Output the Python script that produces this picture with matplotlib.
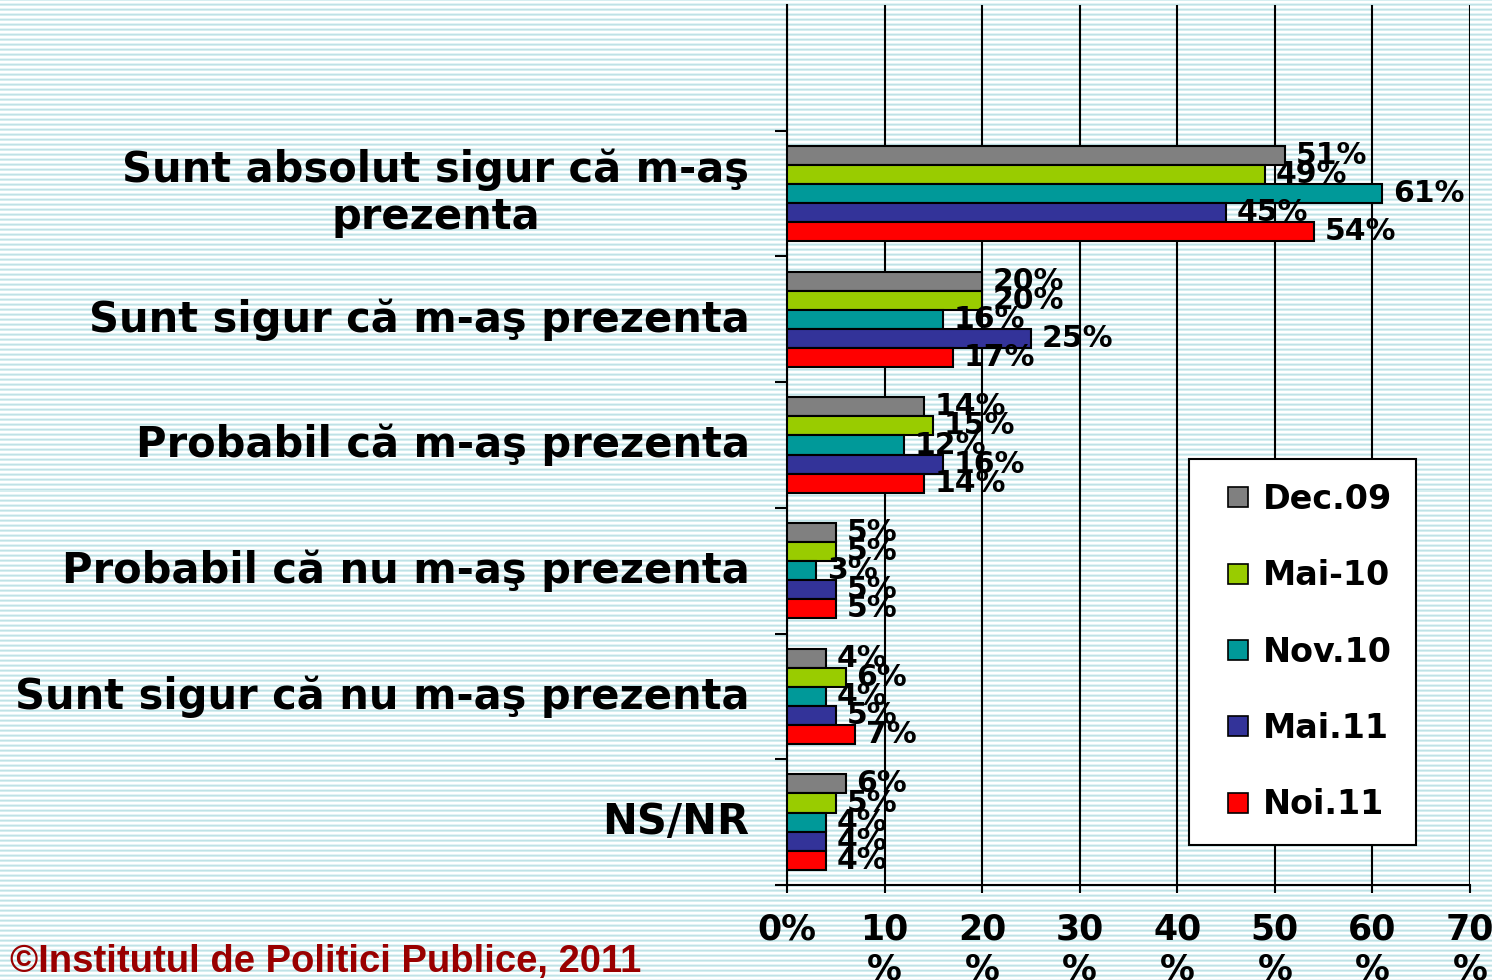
"""
Prezenta la vot - bare orizontale pe valuri de sondaj
"""

import numpy as np
import matplotlib
matplotlib.use('Agg')
import matplotlib.pyplot as plt
from matplotlib.lines import Line2D

# categorii (de sus in jos)
categories = ['Sunt absolut sigur că m-aş\nprezenta',
              'Sunt sigur că m-aş prezenta',
              'Probabil că m-aş prezenta',
              'Probabil că nu m-aş prezenta',
              'Sunt sigur că nu m-aş prezenta',
              'NS/NR']

waves = ['Dec.09', 'Mai-10', 'Nov.10', 'Mai.11', 'Noi.11']
colors = ['#808080', '#99cc00', '#009999', '#333399', '#ff0000']

dec09 = [51, 20, 14, 5, 4, 6]
mai10 = [49, 20, 15, 5, 6, 5]
nov10 = [61, 16, 12, 3, 4, 4]
mai11 = [45, 25, 16, 5, 5, 4]
noi11 = [54, 17, 14, 5, 7, 4]
series = [dec09, mai10, nov10, mai11, noi11]

xticks = [0, 10, 20, 30, 40, 50, 60, 70]
xticklabels = ['0%', '10\n%', '20\n%', '30\n%', '40\n%', '50\n%', '60\n%', '70\n%']

W, H = 1492, 980
fig = plt.figure(figsize=(W / 100, H / 100), dpi=100)

# fundal cu dungi orizontale
bg = fig.add_axes([0, 0, 1, 1], zorder=-10)
pattern = np.array([[191, 226, 230], [214, 238, 240], [255, 255, 255],
                    [255, 255, 255], [228, 243, 245]]) / 255.0
rows = np.array([pattern[i % 5] for i in range(H)])
bg.imshow(rows[:, None, :], aspect='auto', extent=[0, 1, 0, 1], interpolation='nearest')
bg.axis('off')

ax = fig.add_axes([787 / W, 1 - 885 / H, (1470 - 787) / W, (885 - 5) / H])
ax.set_facecolor('none')

n = len(series)
group_h = 0.76
bar_h = group_h / n
centers = np.arange(1, len(categories) + 1)

for i, (vals, col, name) in enumerate(zip(series, colors, waves)):
    y = centers - group_h / 2 + (i + 0.5) * bar_h
    ax.barh(y, vals, height=bar_h, color=col, edgecolor='black', linewidth=1.5,
            label=name, zorder=3)
    for yy, v in zip(y, vals):
        ax.text(v + 1.1, yy, f'{v}%', va='center', ha='left', fontsize=21.5,
                fontweight='bold', color='black', zorder=4)

ax.set_xlim(0, 70)
ax.set_ylim(6.5, -0.5)

ax.set_xticks(xticks)
ax.set_xticklabels(xticklabels, fontsize=25, fontweight='bold', linespacing=1.2)
ax.tick_params(axis='x', direction='out', length=6, width=1.5, pad=14)

ax.set_yticks(centers)
ax.set_yticklabels(categories, fontsize=30, fontweight='bold', multialignment='center',
                   linespacing=1.15, va='center')
ax.tick_params(axis='y', which='major', length=0, pad=27)
ax.set_yticks(np.arange(0.5, 7, 1), minor=True)
ax.tick_params(axis='y', which='minor', direction='out', length=9, width=1.5)

ax.grid(axis='x', color='black', linewidth=1.5, zorder=1)
ax.set_axisbelow(True)
for s in ['top', 'right']:
    ax.spines[s].set_visible(False)
for s in ['left', 'bottom']:
    ax.spines[s].set_linewidth(1.5)

handles = [Line2D([], [], linestyle='none', marker='s', markersize=14,
                  markerfacecolor=c, markeredgecolor='black', markeredgewidth=1.2)
           for c in colors]
leg = ax.legend(handles, waves, loc='upper left', bbox_to_anchor=(0.5886, 0.484),
                prop={'size': 24, 'weight': 'bold'}, handlelength=1.5,
                labelspacing=1.3, handletextpad=0.0, borderpad=0.72, borderaxespad=0,
                fancybox=False, framealpha=1, edgecolor='black')
leg.get_frame().set_linewidth(1.5)
leg.set_zorder(5)

fig.text(10 / W, 1 - 972 / H, '©Institutul de Politici Publice, 2011', fontsize=27.5,
         fontweight='bold', family='Liberation Sans', color='#990000', ha='left',
         va='baseline')

fig.savefig('out.png', dpi=100)
